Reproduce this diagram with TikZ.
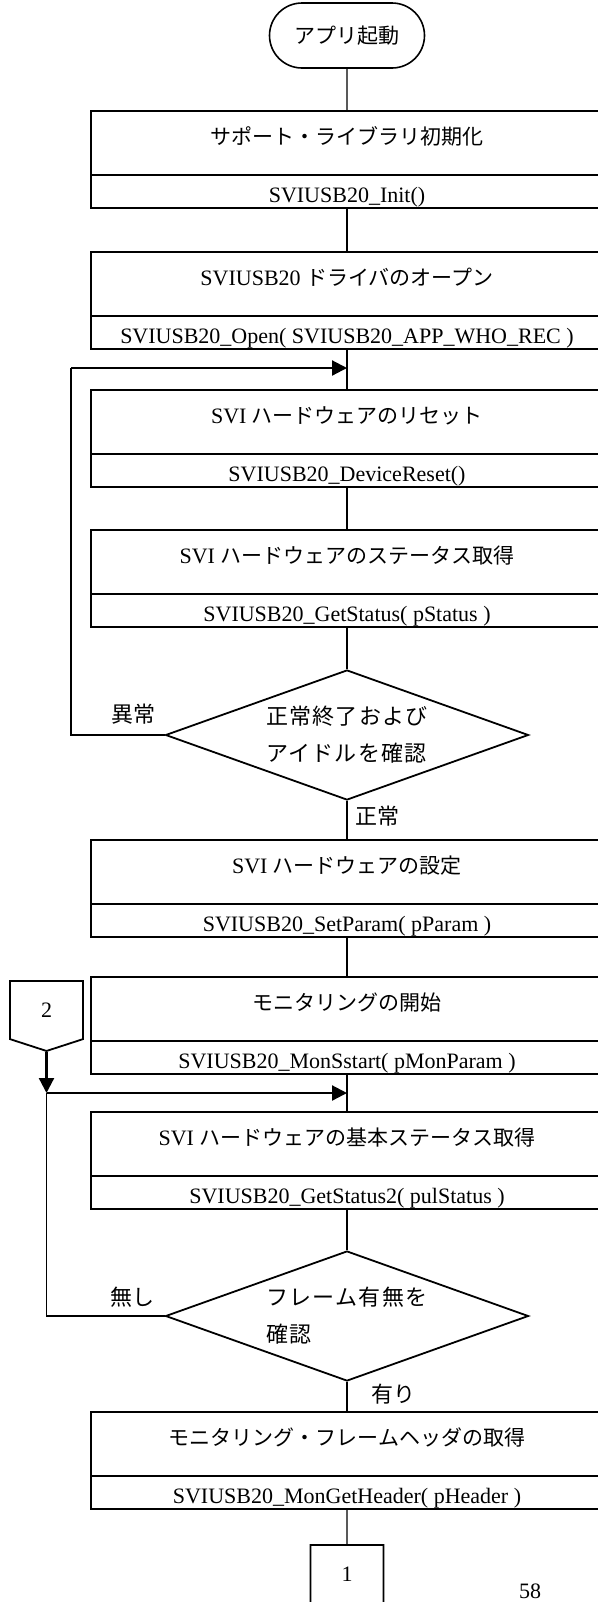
\documentclass[tikz,border=0pt]{standalone}
\usepackage{fontspec}
\setmainfont{Liberation Serif}
\newfontfamily\jpfont{Noto Sans CJK JP}
\newfontfamily\jpspaced[LetterSpace=6]{Noto Sans CJK JP}
\usetikzlibrary{arrows.meta,positioning,shapes.geometric,shapes.misc,shapes.symbols}

\newcommand\jp[1]{{\jpfont\fontsize{10.5}{12}\selectfont #1}}

\tikzset{
    flow/.style={line width=0.7pt},
    jump/.style={line width=1.1pt,-{Triangle[length=7.5pt,width=7.5pt]}},
    terminal/.style={draw,line width=0.8pt,rounded rectangle,minimum width=77.5pt,
        minimum height=32.5pt,inner sep=0pt,font=\jpfont\fontsize{10.5}{12}\selectfont},
    headbox/.style={draw,line width=0.9pt,minimum width=256pt,inner sep=0pt,outer sep=0pt,
        text height=16.5pt,text depth=15.5pt,font=\fontsize{11}{13}\selectfont},
    callbox/.style={draw,line width=0.9pt,minimum width=256pt,inner sep=0pt,outer sep=0pt,
        text height=13.5pt,text depth=3pt,font=\fontsize{11}{13}\selectfont},
    decision/.style={draw,line width=0.9pt,diamond,shape aspect=2.8,minimum width=181.5pt,
        minimum height=65pt,inner sep=0pt,align=left,font=\jpspaced\fontsize{11}{18.5}\selectfont},
    offpage/.style={draw,line width=0.9pt,signal,signal to=south,signal pointer angle=144,
        minimum width=36.5pt,minimum height=30pt,inner sep=0pt,font=\fontsize{11}{13}\selectfont},
    branch/.style={inner sep=0pt,font=\jpfont\fontsize{11}{13}\selectfont},
}

\begin{document}
\begin{tikzpicture}[x=0.5pt,y=-0.5pt]

    % page
    \clip (0,0) rectangle (598,1602);

    % start
    \node[terminal] (start) at (347,35.5) {アプリ起動};

    % processing boxes (upper: title, lower: call)
    \node[headbox] (b1) at (347,143) {\jp{サポート・ライブラリ初期化}};
    \node[callbox,below=0pt of b1] (b1c) {SVIUSB20\_Init()};

    \node[headbox] (b2) at (347,284) {SVIUSB20 \jp{ドライバのオープン}};
    \node[callbox,below=0pt of b2] (b2c) {SVIUSB20\_Open( SVIUSB20\_APP\_WHO\_REC )};

    \node[headbox] (b3) at (347,422) {SVI \jp{ハードウェアのリセット}};
    \node[callbox,below=0pt of b3] (b3c) {SVIUSB20\_DeviceReset()};

    \node[headbox] (b4) at (347,562) {SVI \jp{ハードウェアのステータス取得}};
    \node[callbox,below=0pt of b4] (b4c) {SVIUSB20\_GetStatus( pStatus )};

    % first check
    \node[decision] (d1) at (347,735) {正常終了および\\アイドルを確認};

    \node[headbox] (b5) at (347,872) {SVI \jp{ハードウェアの設定}};
    \node[callbox,below=0pt of b5] (b5c) {SVIUSB20\_SetParam( pParam )};

    \node[headbox] (b6) at (347,1009) {\jp{モニタリングの開始}};
    \node[callbox,below=0pt of b6] (b6c) {SVIUSB20\_MonSstart( pMonParam )};

    \node[headbox] (b7) at (347,1144) {SVI \jp{ハードウェアの基本ステータス取得}};
    \node[callbox,below=0pt of b7] (b7c) {SVIUSB20\_GetStatus2( pulStatus )};

    % second check
    \node[decision] (d2) at (347,1316) {フレーム有無を\\確認};

    \node[headbox] (b8) at (347,1444) {\jp{モニタリング・フレームヘッダの取得}};
    \node[callbox,below=0pt of b8] (b8c) {SVIUSB20\_MonGetHeader( pHeader )};

    % off-page connectors
    \node[offpage] (o2) at (46.5,1010) {2};
    \node[offpage] (o1) at (347,1574) {1};

    % page number
    \node[inner sep=0pt,font=\fontsize{11}{13}\selectfont] (page) at (530,1591) {58};

    % main flow
    \draw[flow] (start) -- (b1);
    \draw[flow] (b1c) -- (b2);
    \draw[flow] (b2c) -- (b3);
    \draw[flow] (b3c) -- (b4);
    \draw[flow] (b4c) -- (d1);
    \draw[flow] (d1) -- node[branch,right=4pt,pos=0.4] {正常} (b5);
    \draw[flow] (b5c) -- (b6);
    \draw[flow] (b6c) -- (b7);
    \draw[flow] (b7c) -- (d2);
    \draw[flow] (d2) -- node[branch,right=12pt,pos=0.4] {有り} (b8);
    \draw[flow] (b8c) -- (o1);

    % retry loop
    \coordinate (j1) at (347,368);
    \coordinate (c1) at (71,368);
    \draw[flow] (d1.west) -- node[branch,above=5pt,pos=0.33] {異常} (c1 |- d1.west) -- (c1);
    \draw[jump] (c1) -- (j1);

    % polling loop
    \coordinate (j2) at (347,1093);
    \coordinate (c2) at (46.5,1093);
    \draw[jump] (o2.south) -- (c2);
    \draw[jump] (c2) -- (j2);
    \draw[flow] (d2.west) -- node[branch,above=4pt,pos=0.27] {無し} (c2 |- d2.west) -- (c2);

\end{tikzpicture}
\end{document}
